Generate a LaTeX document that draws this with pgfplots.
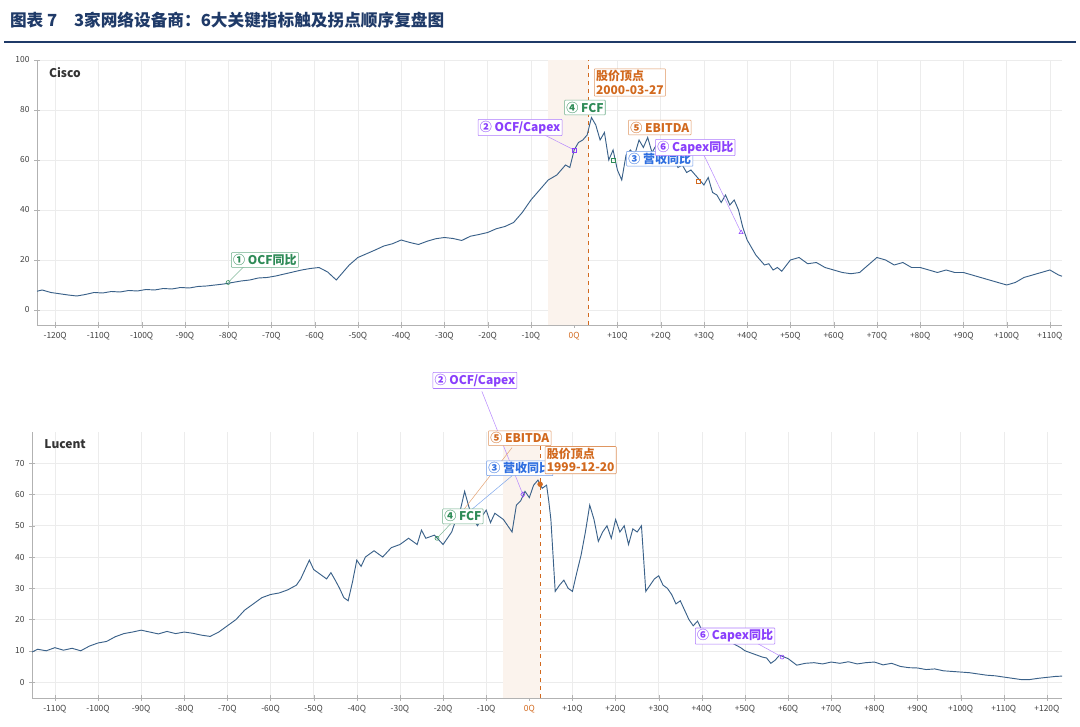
\documentclass[border=0pt]{standalone}
\usepackage{fontspec}
\setmainfont{Noto Sans CJK SC}
\usepackage{pgfplots}
\pgfplotsset{compat=1.18}
\definecolor{line}{HTML}{3A6189}
\definecolor{ora}{HTML}{D2691E}
\definecolor{grn}{HTML}{2E8B57}
\definecolor{pur}{HTML}{8A3FFC}
\definecolor{blu}{HTML}{2F6FE0}
\definecolor{navy}{HTML}{1F3A68}
\tikzset{lab/.style={draw=#1!70, text=#1, fill=white, inner sep=1.3pt, font=\fontsize{9}{10}\selectfont\bfseries, rounded corners=0.5pt}}
\pgfplotsset{
 base/.style={scale only axis, axis lines=left, axis line style={gray!60,-}, grid=major,
  grid style={gray!15}, tick style={gray!60},
  tick label style={font=\fontsize{6.3}{7}\selectfont, text=black!75},
  /pgf/number format/assume math mode=true, clip=false,
  xtick={-120,-110,...,120}},
}
\begin{document}
\begin{tikzpicture}[x=1pt,y=1pt]
\useasboundingbox (0,0) rectangle (810,545.25);
\node[anchor=west, text=navy, font=\fontsize{12.5}{13}\selectfont\bfseries] at (4,530) {图表 7\quad 3家网络设备商：6大关键指标触及拐点顺序复盘图};
\draw[navy, line width=1.2pt] (3,513.75) -- (807,513.75);
% ---------- Cisco
\begin{axis}[base, at={(27.75pt,301.5pt)}, anchor=south west, width=768.75pt, height=198.75pt,
 xmin=-124.2, xmax=112.8, ymin=-6, ymax=100, ytick={0,20,...,100},
 xticklabels={-120Q,-110Q,-100Q,-90Q,-80Q,-70Q,-60Q,-50Q,-40Q,-30Q,-20Q,-10Q,{\textcolor{ora}{0Q}},+10Q,+20Q,+30Q,+40Q,+50Q,+60Q,+70Q,+80Q,+90Q,+100Q,+110Q}]
\fill[ora!8] (axis cs:-6,-6) rectangle (axis cs:3.4,100);
\draw[ora, dashed, thick] (axis cs:3.4,-6) -- (axis cs:3.4,100);
\addplot[line, line width=0.7pt] coordinates {
(-124.2,7.5)(-123,8)(-121,7)(-119,6.5)(-117,6)(-115,5.6)(-113,6.2)(-111,7)(-109,6.8)(-107,7.4)(-105,7.2)(-103,7.8)(-101,7.6)(-99,8.2)(-97,8)(-95,8.6)(-93,8.4)(-91,9)(-89,8.8)(-87,9.4)(-85,9.6)(-83,10)(-81,10.4)(-79,11)(-77,11.6)(-75,12)(-73,12.8)(-71,13)(-69,13.6)(-67,14.4)(-65,15.2)(-63,16)(-61,16.6)(-59,17)(-57,15.2)(-55,12)(-54,14)(-52,18)(-50,21)(-48,22.5)(-46,24)(-44,25.6)(-42,26.5)(-40,28)(-38,27)(-36,26.2)(-34,27.5)(-32,28.5)(-30,29)(-28,28.6)(-26,27.8)(-24,29.5)(-22,30.2)(-20,31)(-18,32.5)(-16,33.4)(-14,35)(-12,39)(-10,44)(-8,48)(-6,52)(-4,54)(-3,56)(-2,58)(-1,57)(0,64)(1,67)(2,68)(3,70)(4,77)(5,74)(6,68)(7,71)(8,60)(9,64)(10,56)(11,52)(12,62)(13,64)(14,62)(15,68)(16,65)(17,69)(18,63)(19,66)(20,64)(21,62)(22,60)(23,61)(24,57)(25,58)(26,55)(27,56)(28,54)(29,52)(30,50)(31,53)(32,47)(33,46)(34,43)(35,46)(36,42)(37,44)(38,40)(39,33)(40,28)(41,25)(42,22)(43,20)(44,18)(45,18.5)(46,16)(47,17)(48,15.5)(50,20)(52,21)(54,18.5)(56,19)(58,17)(60,16)(62,15)(64,14.5)(66,15)(68,18)(70,21)(72,20)(74,18)(76,19)(78,17)(80,17)(82,16)(84,15)(86,16)(88,15)(90,15)(92,14)(94,13)(96,12)(98,11)(100,10)(102,11)(104,13)(106,14)(108,15)(110,16)(112,14)(112.8,13.5)};
\addplot[only marks, mark=o, grn, mark size=1.5pt] coordinates {(-80,11)};
\addplot[only marks, mark=square, pur, mark size=1.5pt] coordinates {(0,64)};
\addplot[only marks, mark=square, grn, mark size=1.5pt] coordinates {(9,60)};
\addplot[only marks, mark=square, ora, mark size=1.5pt] coordinates {(28.6,51.6)};
\addplot[only marks, mark=triangle, pur, mark size=1.8pt] coordinates {(38.6,31)};
\draw[grn!60] (axis cs:-76,18) -- (axis cs:-80,11);
\draw[pur!60] (axis cs:-8,71) -- (axis cs:0,64);
\draw[pur!60] (axis cs:30,62) -- (axis cs:38.6,31);
\node[lab=grn] at (axis cs:-71.5,20) {① OCF同比};
\node[lab=pur] at (axis cs:-12.5,73) {② OCF/Capex};
\node[lab=grn] at (axis cs:2.5,81) {④ FCF};
\node[lab=blu] at (axis cs:19.8,60.5) {③ 营收同比};
\node[lab=ora] at (axis cs:19.8,73) {⑤ EBITDA};
\node[lab=pur] at (axis cs:28,65) {⑥ Capex同比};
\node[lab=ora, anchor=west, align=left] at (axis cs:4.6,91) {股价顶点\\2000-03-27};
\node[anchor=north west, font=\fontsize{9}{10}\selectfont\bfseries, text=black!80] at (axis cs:-122.5,99) {Cisco};
\end{axis}
% ---------- Lucent
\begin{axis}[base, at={(24pt,21.75pt)}, anchor=south west, width=772.5pt, height=199.5pt,
 xmin=-115.3, xmax=123.5, ymin=-5.1, ymax=80, ytick={0,10,...,70},
 xtick={-110,-100,...,120},
 xticklabels={-110Q,-100Q,-90Q,-80Q,-70Q,-60Q,-50Q,-40Q,-30Q,-20Q,-10Q,{\textcolor{ora}{0Q}},+10Q,+20Q,+30Q,+40Q,+50Q,+60Q,+70Q,+80Q,+90Q,+100Q,+110Q,+120Q}]
\fill[ora!8] (axis cs:-6,-5.1) rectangle (axis cs:2.5,80);
\draw[ora, dashed, thick] (axis cs:2.5,-5.1) -- (axis cs:2.5,80);
\addplot[line, line width=0.7pt] coordinates {
(-115.3,9.6)(-114,10.5)(-112,10)(-110,11)(-108,10.2)(-106,10.8)(-104,10)(-102,11.5)(-100,12.5)(-98,13)(-96,14.5)(-94,15.5)(-92,16)(-90,16.6)(-88,16)(-86,15.4)(-84,16.2)(-82,15.5)(-80,16)(-78,15.6)(-76,15)(-74,14.6)(-72,16)(-70,18)(-68,20)(-66,23)(-64,25)(-62,27)(-60,28)(-58,28.5)(-56,29.5)(-54,31)(-53,33)(-52,36)(-51,39)(-50,36)(-49,35)(-48,34)(-47,33)(-46,35)(-45,32.6)(-44,30)(-43,27)(-42,26)(-41,32)(-40,39)(-39,37)(-38,40)(-36,42)(-34,40)(-32,43)(-30,44)(-28,46)(-26,44)(-25,48.6)(-24,46)(-22,47)(-20,44)(-19,46)(-18,48)(-17,52)(-16,55)(-15,61)(-14,56)(-13,52)(-12,50)(-11,53)(-10,55)(-9,51)(-8,54)(-7,53)(-6,52)(-5,50)(-4,48)(-3,56.6)(-2,58)(-1,61)(0,59)(1,63)(2,64.6)(3,62)(4,63)(4.5,58)(5,52)(6,29)(7,31)(8,32.6)(9,30)(10,29)(11,35)(12,40.6)(13,48)(14,56.6)(15,52)(16,45)(17,48)(18,50)(19,46)(20,52)(21,48)(22,50)(23,44)(24,49)(25,48)(26,50)(27,29)(28,31)(29,33)(30,34)(31,31)(32,30)(33,28)(34,25)(35,26)(36,23)(37,20)(38,18)(39,19.5)(40,16.6)(42,15)(44,14)(45,13.4)(47,12.5)(49,11)(50,10)(52,9)(54,8)(55,7.7)(56,6)(57,7)(58,8.6)(60,7.5)(62,5.4)(64,6)(66,6.2)(68,5.8)(70,6.4)(72,6)(74,6.5)(76,5.8)(78,6.2)(80,6.4)(82,5.5)(84,6)(86,5)(88,4.6)(90,4.5)(92,4)(94,4.2)(96,3.6)(98,3.4)(100,3.2)(102,3)(104,2.6)(106,2.2)(108,2)(110,1.6)(112,1.2)(114,0.8)(116,0.8)(118,1.2)(120,1.5)(122,1.8)(123.5,1.9)};
\addplot[only marks, mark=o, grn, mark size=1.5pt] coordinates {(-21.4,46)};
\addplot[only marks, mark=diamond, pur, mark size=2pt] coordinates {(-1.5,60)};
\addplot[only marks, mark=*, ora, mark size=1.8pt] coordinates {(2.5,63.3)};
\addplot[only marks, mark=o, pur, mark size=1.5pt] coordinates {(58.6,8)};
\draw[pur!60] (axis cs:-11,93) -- (axis cs:-1.5,60);
\draw[ora!60] (axis cs:-4,75) -- (axis cs:-17,52);
\draw[blu!60] (axis cs:-4,66) -- (axis cs:-17,51);
\draw[grn!60] (axis cs:-18,51) -- (axis cs:-21.4,46);
\draw[pur!60] (axis cs:52,13) -- (axis cs:58.6,8);
\node[lab=pur] at (axis cs:-12.6,96.5) {② OCF/Capex};
\node[lab=ora] at (axis cs:-2.2,78) {⑤ EBITDA};
\node[lab=blu] at (axis cs:-2.2,68.4) {③ 营收同比};
\node[lab=grn] at (axis cs:-15.4,53) {④ FCF};
\node[lab=pur] at (axis cs:47.7,14.7) {⑥ Capex同比};
\node[lab=ora, anchor=west, align=left] at (axis cs:3.6,71) {股价顶点\\1999-12-20};
\node[anchor=north west, font=\fontsize{9}{10}\selectfont\bfseries, text=black!80] at (axis cs:-113.5,79) {Lucent};
\end{axis}
\end{tikzpicture}
\end{document}
